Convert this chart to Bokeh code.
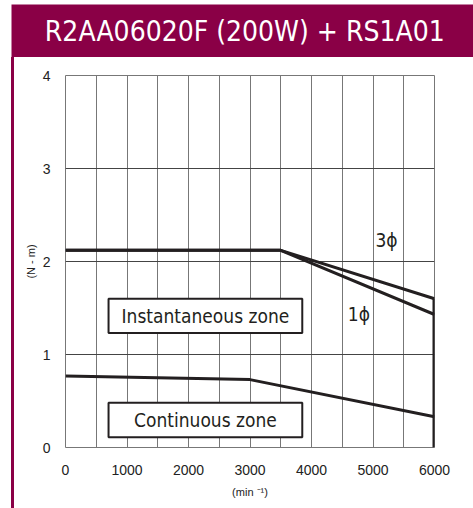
from bokeh.plotting import figure
from bokeh.models import Range1d, FixedTicker, ColumnDataSource, Div
from bokeh.layouts import row, column
from bokeh.core.properties import value
from bokeh.embed import file_html
from bokeh.resources import INLINE

# ---- data ----
title_text = "R2AA06020F (200W) + RS1A01"
x_ticks = [0, 1000, 2000, 3000, 4000, 5000, 6000]
y_ticks = [0, 1, 2, 3, 4]
x_grid = [500, 1000, 1500, 2000, 2500, 3000, 3500, 4000, 4500, 5000, 5500]

speed_3ph = [0, 3500, 6000]
torque_3ph = [2.12, 2.12, 1.60]
speed_1ph = [0, 3500, 6000]
torque_1ph = [2.12, 2.12, 1.43]
speed_edge = [6000, 6000]
torque_edge = [1.60, 0.0]
speed_cont = [0, 3000, 6000]
torque_cont = [0.77, 0.73, 0.33]

zone_names = ["Instantaneous zone", "Continuous zone"]
zone_left = [700, 700]
zone_right = [3850, 3850]
zone_bottom = [1.23, 0.11]
zone_top = [1.60, 0.48]

phase_names = ["3ϕ", "1ϕ"]
phase_x = [5220, 4770]
phase_y = [2.23, 1.44]

MAROON = "#8A0046"
LINE = "#231f20"
NARROW = "'DejaVu Sans Condensed', 'Liberation Sans Narrow', Roboto, sans-serif"

# ---- header ----
h = figure(width=473, height=57, output_backend="svg", toolbar_location=None,
           x_range=Range1d(0, 1), y_range=Range1d(0, 1), x_axis_type=None, y_axis_type=None,
           min_border_left=11, min_border_right=0, min_border_top=4, min_border_bottom=0, margin=0)
h.background_fill_color = MAROON
h.border_fill_color = "white"
h.outline_line_color = None
h.grid.visible = False
h.text(x=[0.505], y=[0.49], text=[title_text], text_align="center", text_baseline="middle",
       text_color="white", text_font=value(NARROW), text_font_size="28px")

# ---- left bar ----
bar = Div(text="", width=3, height=451, margin=(0, 0, 0, 11),
          styles={"background-color": MAROON})

# ---- main chart ----
p = figure(width=459, height=451, output_backend="svg", toolbar_location=None,
           x_range=Range1d(0, 6000), y_range=Range1d(0, 4), margin=0,
           min_border_left=51, min_border_right=39, min_border_top=18, min_border_bottom=61)
p.border_fill_color = "white"
p.outline_line_color = "#777777"
p.outline_line_width = 1

p.xgrid.ticker = FixedTicker(ticks=x_grid)
p.xgrid.grid_line_color = "#777777"
p.xgrid.grid_line_width = 1
p.ygrid.ticker = FixedTicker(ticks=[1, 2, 3])
p.ygrid.grid_line_color = "#444444"
p.ygrid.grid_line_width = 1

for ax in (p.xaxis[0], p.yaxis[0]):
    ax.axis_line_color = None
    ax.major_tick_line_color = None
    ax.minor_tick_line_color = None
    ax.major_label_text_font = "Liberation Sans"
    ax.major_label_text_font_size = "14px"
    ax.major_label_text_color = "#222222"
    ax.axis_label_text_font = "Liberation Sans"
    ax.axis_label_text_font_style = "normal"
    ax.axis_label_text_font_size = "11px"
    ax.axis_label_text_color = "#222222"
p.xaxis.ticker = FixedTicker(ticks=x_ticks)
p.yaxis.ticker = FixedTicker(ticks=y_ticks)
p.xaxis.major_label_standoff = 11
p.yaxis.major_label_standoff = 9
p.xaxis.axis_label = "(min ⁻¹)"
p.xaxis.axis_label_standoff = 8
p.yaxis.axis_label = "(N - m)"
p.yaxis.axis_label_standoff = 3

zsrc = ColumnDataSource(dict(left=zone_left, right=zone_right, bottom=zone_bottom, top=zone_top,
                             name=zone_names,
                             cx=[(a + b) / 2 for a, b in zip(zone_left, zone_right)],
                             cy=[(a + b) / 2 for a, b in zip(zone_bottom, zone_top)]))
p.quad(left="left", right="right", bottom="bottom", top="top", source=zsrc,
       fill_color="white", line_color=LINE, line_width=2)
p.text(x="cx", y="cy", text="name", source=zsrc, text_align="center", text_baseline="middle",
       text_font=value(NARROW), text_font_size="19px", text_color=LINE)

p.line(speed_cont, torque_cont, line_color=LINE, line_width=3)
p.line(speed_1ph, torque_1ph, line_color=LINE, line_width=3)
p.line(speed_3ph, torque_3ph, line_color=LINE, line_width=3)
p.line(speed_edge, torque_edge, line_color=LINE, line_width=4)

p.text(x=phase_x, y=phase_y, text=phase_names, text_align="center", text_baseline="middle",
       text_font=value(NARROW), text_font_size="19px", text_color=LINE)

layout = column(h, row(bar, p, margin=0), margin=0)

open("out.html", "w").write(file_html(layout, INLINE))
